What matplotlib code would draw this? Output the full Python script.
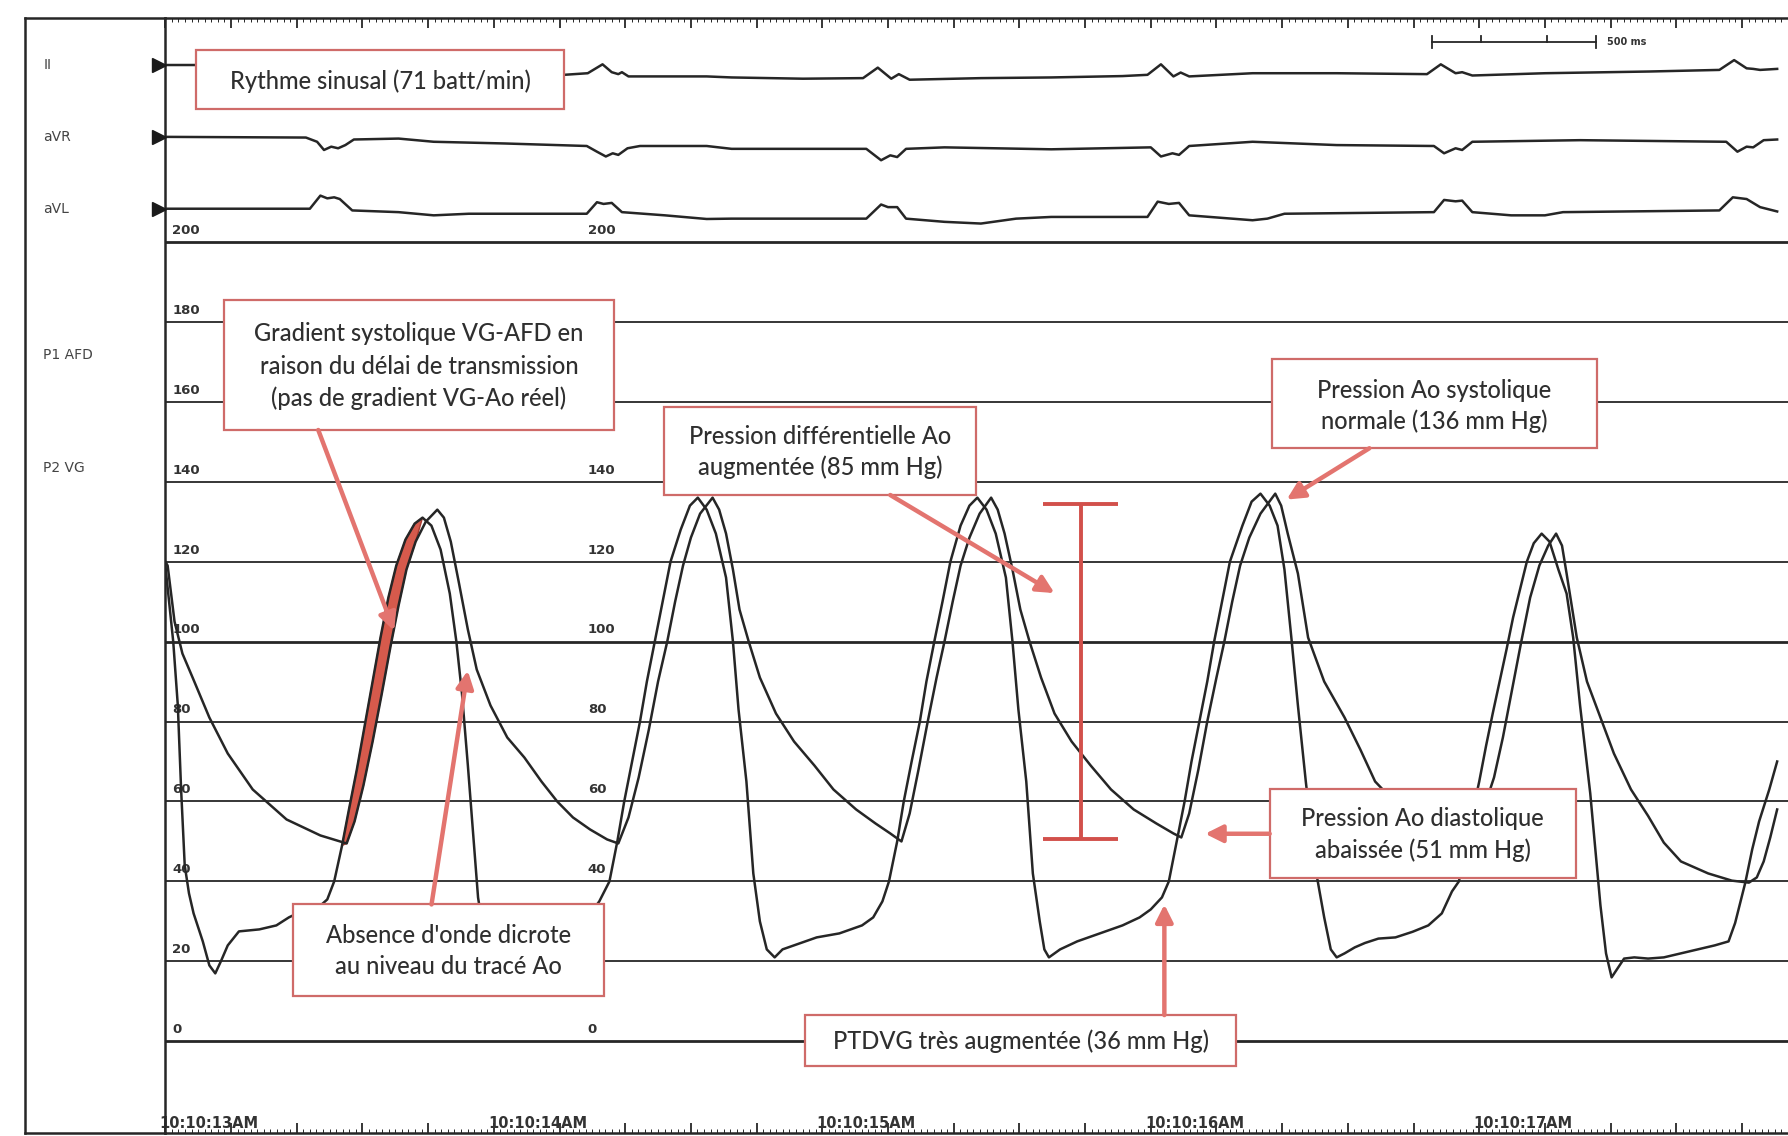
import matplotlib
matplotlib.use("Agg")
import numpy as np
import matplotlib.pyplot as plt
from matplotlib.patches import Rectangle, FancyArrowPatch, Polygon

# ---- data (time in s from 10:10:13 AM, pressure in mmHg) ----
# P2 VG (left ventricle)
lv_t = [0.000, 0.014, 0.024, 0.038, 0.048, 0.059, 0.072, 0.086, 0.114, 0.134, 0.152, 0.169,
        0.190, 0.224, 0.286, 0.338, 0.376, 0.414, 0.466, 0.493,
        0.514, 0.538, 0.559, 0.583, 0.607, 0.631, 0.655, 0.679, 0.703, 0.731, 0.759, 0.783,
        0.810, 0.838, 0.866, 0.886, 0.903, 0.921, 0.938, 0.952, 0.969, 0.986, 1.007,
        1.034, 1.086, 1.155, 1.224, 1.276, 1.321,
        1.352, 1.376, 1.397, 1.421, 1.445, 1.466, 1.490, 1.514, 1.538, 1.569, 1.597, 1.621,
        1.648, 1.676, 1.707, 1.728, 1.745, 1.769, 1.790, 1.810, 1.831, 1.855,
        1.879, 1.914, 1.983, 2.052, 2.121, 2.155, 2.183,
        2.203, 2.228, 2.248, 2.272, 2.297, 2.317, 2.341, 2.366, 2.390, 2.421, 2.448, 2.472,
        2.500, 2.528, 2.559, 2.579, 2.597, 2.621, 2.641, 2.662, 2.676, 2.690,
        2.724, 2.776, 2.845, 2.914, 2.966, 3.000, 3.034,
        3.055, 3.079, 3.103, 3.124, 3.148, 3.172, 3.193, 3.217, 3.241, 3.279, 3.307, 3.334,
        3.362, 3.386, 3.407, 3.428, 3.448, 3.472, 3.503, 3.528, 3.548, 3.566,
        3.590, 3.621, 3.652, 3.693, 3.745, 3.797, 3.845, 3.886, 3.917,
        3.938, 3.959, 3.979, 4.000, 4.021, 4.041, 4.062, 4.083, 4.103, 4.124, 4.145, 4.166, 4.190,
        4.214, 4.241, 4.266, 4.286, 4.307, 4.338, 4.369, 4.386, 4.403,
        4.441, 4.472, 4.514, 4.562, 4.614, 4.666, 4.717, 4.759,
        4.779, 4.810, 4.831, 4.852, 4.883, 4.907]
lv_p = [119, 108, 100, 84, 63, 44, 37, 32, 25, 19, 17, 20,
        24, 27.5, 28, 29, 31, 32.5, 33.5, 35.5,
        40, 49, 58, 68, 79, 90, 101, 111, 119, 125.5, 129.5, 131,
        129, 123, 112, 100, 87, 69, 51, 36, 27, 22, 20,
        22, 24, 26, 28, 30, 35,
        40, 50, 60, 70, 80, 90, 100, 110, 120, 128, 134, 136,
        133, 127, 116, 100, 83, 65, 42, 30, 23, 21,
        23, 24, 26, 27, 29, 31, 35,
        40, 50, 60, 70, 80, 90, 100, 110, 120, 129, 134, 136,
        133, 127, 116, 100, 83, 65, 42, 30, 23, 21,
        23, 25, 27, 29, 31, 33, 36,
        40, 50, 60, 70, 80, 90, 100, 110, 120, 129, 135, 137,
        134, 129, 118, 101, 84, 65, 42.5, 31, 23, 21,
        22, 23.5, 24.6, 25.7, 26, 27.4, 29, 32, 37.5,
        40, 48, 57, 65, 74, 82, 90, 98, 106, 113, 120, 124.6, 127,
        125, 118, 112, 101, 84, 62, 34, 22, 16,
        20.7, 21, 20.7, 21, 22, 23, 24, 25,
        29.6, 39.7, 48, 55, 63, 70]

# P1 AFD (femoral artery, aortic pressure)
afd_t = [0.000, 0.007, 0.028, 0.052, 0.083, 0.134, 0.190, 0.266, 0.369, 0.472, 0.552,
         0.576, 0.603, 0.631, 0.659, 0.686, 0.710, 0.734, 0.762, 0.793, 0.828,
         0.848, 0.869, 0.893, 0.921, 0.948, 0.990, 1.041, 1.093, 1.145, 1.193, 1.241, 1.293,
         1.345, 1.379,
         1.410, 1.441, 1.472, 1.500, 1.528, 1.552, 1.576, 1.600, 1.628, 1.666,
         1.686, 1.707, 1.728, 1.748, 1.776, 1.810, 1.859, 1.914, 1.976, 2.034, 2.103, 2.162,
         2.207, 2.241,
         2.266, 2.293, 2.321, 2.348, 2.372, 2.397, 2.421, 2.448, 2.479, 2.514,
         2.534, 2.555, 2.579, 2.603, 2.631, 2.666, 2.707, 2.759, 2.817, 2.879, 2.948, 3.017,
         3.069, 3.093,
         3.117, 3.145, 3.172, 3.200, 3.224, 3.248, 3.272, 3.300, 3.334, 3.379,
         3.397, 3.417, 3.448, 3.479, 3.528, 3.590, 3.638, 3.683, 3.741, 3.810, 3.879, 3.962,
         3.993, 4.021, 4.045, 4.072, 4.100, 4.128, 4.155, 4.183, 4.210, 4.234,
         4.252, 4.266, 4.297, 4.328, 4.369, 4.410, 4.462, 4.514, 4.562, 4.614, 4.697, 4.769,
         4.821, 4.845, 4.866, 4.886, 4.907]
afd_p = [120, 119, 105, 97, 91, 81, 72, 63, 55.5, 51.5, 49.5,
         55, 64, 75, 87, 99, 109, 118, 125, 130, 133,
         131, 125, 115, 103, 93, 84, 76, 71, 65, 60, 56, 53,
         50.5, 49.5,
         56, 66, 78, 90, 100, 110, 119, 126, 132, 136,
         133, 127, 118, 108, 100, 91, 82, 75, 69, 63, 58, 54.5,
         52, 50,
         57, 68, 80, 91, 100, 110, 119, 126, 132, 136,
         133, 127, 118, 108, 100, 91, 82, 75, 69, 63, 58, 54.5,
         52, 51,
         57, 68, 80, 91, 100, 110, 119, 126, 132, 137,
         134, 127, 117, 101, 90, 81, 73, 65, 60, 55, 52, 50,
         55, 60, 66, 76, 88, 100, 111, 119, 124, 127,
         124, 117, 101, 90, 81, 72, 63, 56.4, 49.7, 45, 42, 40.2,
         39.7, 41, 45, 51, 58]

# ECG leads (amplitude in arbitrary trace units, positive = up)
ii_t = [0.000, 0.093, 0.293, 0.438, 0.462, 0.483, 0.500, 0.528, 0.810, 1.214,
        1.286, 1.331, 1.359, 1.379, 1.390, 1.410, 1.648, 1.724, 1.941,
        2.124, 2.169, 2.210, 2.233, 2.266, 2.483, 2.697, 2.914,
        2.990, 3.031, 3.069, 3.091, 3.117, 3.310, 3.566,
        3.841, 3.883, 3.928, 3.948, 3.979, 4.200, 4.517,
        4.731, 4.776, 4.814, 4.834, 4.855, 4.907]
ii_amp = [0, 0, -2, -4, 4, -4, -3, -7, -8, -8.6,
          -7.2, 0.6, -6.3, -8, -6.3, -10, -10, -10.9, -12,
          -11.5, -2.3, -12, -8, -12.9, -11.5, -10.9, -9.7,
          -8.6, 0.6, -10, -6.6, -10, -7.2, -7.2,
          -8, 0.6, -7.2, -6.3, -9.2, -7.2, -5.7,
          -4.3, 4.3, -2.9, -3.4, -4.3, -3.4]

avr_t = [0.000, 0.428, 0.462, 0.483, 0.505, 0.526, 0.548, 0.574, 0.710, 0.817, 1.034,
         1.283, 1.314, 1.341, 1.362, 1.379, 1.407, 1.445, 1.648, 1.724, 1.941,
         2.134, 2.179, 2.207, 2.228, 2.255, 2.372, 2.697,
         3.000, 3.031, 3.066, 3.086, 3.117, 3.310, 3.566,
         3.862, 3.893, 3.928, 3.948, 3.979, 4.307,
         4.752, 4.786, 4.814, 4.834, 4.866, 4.907]
avr_amp = [0, -0.6, -4.3, -11.5, -8.6, -10, -7.2, -2.3, -1.5, -4.3, -5.8,
           -8, -13, -17.2, -14.4, -15.8, -10, -8, -8, -10.5, -10.5,
           -10.5, -20.5, -16.2, -17.7, -10.5, -9.2, -10.9,
           -9.2, -17.2, -14.4, -15.8, -8, -4.3, -7.2,
           -8, -14.4, -10, -11.5, -4.3, -2.9,
           -4.3, -13, -8.6, -9.2, -2.9, -2.3]

avl_t = [0.000, 0.440, 0.472, 0.493, 0.514, 0.531, 0.569, 0.710, 0.817, 0.924,
         1.283, 1.314, 1.334, 1.359, 1.390, 1.521, 1.648, 1.724,
         2.134, 2.179, 2.200, 2.228, 2.255, 2.372, 2.483, 2.590, 2.697,
         2.990, 3.021, 3.055, 3.086, 3.117, 3.310, 3.355, 3.407,
         3.862, 3.893, 3.928, 3.948, 3.979, 4.097, 4.200, 4.255,
         4.731, 4.772, 4.814, 4.855, 4.907]
avl_amp = [0, 0, 11.5, 9.1, 10, 8.5, -1.5, -3, -5.8, -4.4,
           -4.4, 5.7, 4.2, 5.1, -3, -5.8, -9, -8.7,
           -8.7, 3.7, 1.4, 1.4, -8.7, -11.5, -13, -8.7, -7.2,
           -7.2, 6.2, 4.2, 5.1, -5.8, -10.1, -8.7, -4.4,
           -3, 7.7, 6.5, 7.1, -3, -5.8, -5.8, -3,
           -1.5, 10, 8.5, 1.4, -2.4]

lead_names = ["II", "aVR", "aVL"]
pressure_ticks = [0, 20, 40, 60, 80, 100, 120, 140, 160, 180, 200]
second_scale_ticks = [0, 40, 60, 80, 100, 120, 140, 200]
time_labels = ["10:10:13AM", "10:10:14AM", "10:10:15AM", "10:10:16AM", "10:10:17AM"]
time_label_t = [0, 1, 2, 3, 4]

bracket_top, bracket_bottom = 134.5, 50.5
gradient_window = (0.538, 0.790)

# ---- layout helpers (reference layout is 1568 x 996 units) ----
W, H = 1568.0, 996.0
T0_X, PX_PER_S = 145.0, 290.0
Y0_Y, PX_PER_MMHG = 913.0, 3.505


def tx(x):
    return (x - T0_X) / PX_PER_S


def py(y):
    return (Y0_Y - y) / PX_PER_MMHG


lead_level = [py(57), py(120), py(183)]
ECG_GAIN = 1.0 / PX_PER_MMHG

INK = "#262626"
BOX_EDGE = "#cf6b69"
ARROW = "#e3746f"
BRACKET = "#d2504b"
TXT = "#2f2f2f"
BOX_FONT = ["Lato", "DejaVu Sans"]

fig = plt.figure(figsize=(17.88, 11.36), dpi=100, facecolor="white")

# left label panel (drawn first, transparent so time labels can overlap it)
lab = fig.add_axes([22 / W, 3 / H, (T0_X - 22) / W, 977 / H])
lab.patch.set_visible(False)
lab.set_xlim(0, 1)
lab.set_ylim(py(993), py(16))
lab.set_xticks([])
lab.set_yticks([])
for s in ["top", "bottom", "left"]:
    lab.spines[s].set_linewidth(1.8)
    lab.spines[s].set_color(INK)
lab.spines["right"].set_visible(False)
for name, lvl in zip(lead_names, lead_level):
    lab.text(0.13, lvl, name, fontsize=10, color="#444444", va="center", ha="left")
lab.text(0.13, py(311), "P1 AFD", fontsize=10, color="#444444", va="center", ha="left")
lab.text(0.13, py(410), "P2 VG", fontsize=10, color="#444444", va="center", ha="left")

ax = fig.add_axes([T0_X / W, 3 / H, 1 - T0_X / W, 977 / H])
ax.patch.set_visible(False)
ax.set_xlim(0, tx(W))
ax.set_ylim(py(993), py(16))
for s in ["top", "bottom", "left"]:
    ax.spines[s].set_linewidth(1.8)
    ax.spines[s].set_color(INK)
ax.spines["right"].set_visible(False)

# time rulers top and bottom
ax.set_xticks(np.arange(0, 4.95, 0.2))
ax.set_xticks(np.arange(0, 4.95, 0.02), minor=True)
ax.tick_params(axis="x", which="major", direction="in", length=7, width=1.3,
               top=True, bottom=True, labelbottom=False, colors=INK)
ax.tick_params(axis="x", which="minor", direction="in", length=3, width=0.7,
               top=True, bottom=True, colors=INK)
ax.set_yticks([])

# pressure grid lines and scale labels
for v in pressure_ticks:
    lw = 2.0 if v in (0, 100, 200) else 1.3
    ax.axhline(v, color=INK, lw=lw, zorder=1)
    ax.text(tx(151), v + 2.9, str(v), fontsize=9.5, fontweight="bold", color="#333333",
            ha="left", va="center", zorder=2)
for v in second_scale_ticks:
    ax.text(tx(518), v + 2.9, str(v), fontsize=9.5, fontweight="bold", color="#333333",
            ha="left", va="center", zorder=2)

# ECG traces
for (t_arr, a_arr), lvl in zip([(ii_t, ii_amp), (avr_t, avr_amp), (avl_t, avl_amp)], lead_level):
    ax.plot(t_arr, lvl + np.array(a_arr) * ECG_GAIN, color=INK, lw=1.8, zorder=3)
    ax.plot([tx(139)], [lvl], marker=">", ms=10, color="#1a1a1a", clip_on=False, zorder=4)

# systolic gradient (red band between LV and AFD upstrokes)
lt, lp = np.array(lv_t), np.array(lv_p)
at, ap = np.array(afd_t), np.array(afd_p)
m1 = (lt >= gradient_window[0]) & (lt <= 0.783)
m2 = (at >= 0.552) & (at <= gradient_window[1])
band = np.vstack([np.c_[lt[m1], lp[m1]], np.c_[at[m2], ap[m2]][::-1]])
ax.add_patch(Polygon(band, closed=True, facecolor="#d65a4c", edgecolor="#a83a30",
                     lw=1.0, zorder=3))

# pressure traces
ax.plot(lv_t, lv_p, color=INK, lw=1.8, zorder=4)
ax.plot(afd_t, afd_p, color=INK, lw=1.8, zorder=4)

# time labels
for lbl, tl in zip(time_labels, time_label_t):
    ax.text(tl - 0.017, py(992), lbl, fontsize=10.5, fontweight="bold", color="#333333",
            ha="left", va="bottom", zorder=2)

# 500 ms scale bar
sb0, sb1, sby = tx(1263), tx(1263) + 0.5, py(37)
ax.plot([sb0, sb1], [sby, sby], color=INK, lw=1.3)
for tt in (sb0, sb1):
    ax.plot([tt, tt], [sby - 1.5, sby + 1.5], color=INK, lw=1.3)
for tt in (sb0 + 0.15, sb0 + 0.35):
    ax.plot([tt, tt], [sby, sby + 1.5], color=INK, lw=1.3)
ax.text(tx(1418), sby, "500 ms", fontsize=7, fontweight="bold", color="#333333",
        ha="left", va="center")


def box(x0, x1, y0, y1, lines, ys, size=17):
    r = Rectangle((tx(x0), py(y1)), tx(x1) - tx(x0), py(y0) - py(y1),
                  facecolor="white", edgecolor=BOX_EDGE, lw=1.6, zorder=6)
    ax.add_patch(r)
    cx = (tx(x0) + tx(x1)) / 2
    for ln, yy in zip(lines, ys):
        ax.text(cx, py(yy), ln, fontsize=size, color=TXT, ha="center", va="center",
                family=BOX_FONT, fontweight="medium", zorder=7)


def arrow(x0, y0, x1, y1):
    a = FancyArrowPatch((tx(x0), py(y0)), (tx(x1), py(y1)), arrowstyle="-|>",
                        mutation_scale=26, lw=3.2, color=ARROW, shrinkA=0, shrinkB=0,
                        zorder=8)
    ax.add_patch(a)


box(172, 497, 44, 96, ["Rythme sinusal (71 batt/min)"], [71])
box(197, 541, 263, 377, ["Gradient systolique VG-AFD en",
                         "raison du délai de transmission",
                         "(pas de gradient VG-Ao réel)"], [292, 321, 349])
box(585, 861, 357, 434, ["Pression différentielle Ao",
                         "augmentée (85 mm Hg)"], [383, 410])
box(1122, 1409, 315, 393, ["Pression Ao systolique",
                           "normale (136 mm Hg)"], [342, 369])
box(1120, 1390, 692, 770, ["Pression Ao diastolique",
                           "abaissée (51 mm Hg)"], [718, 745])
box(258, 532, 793, 873, ["Absence d'onde dicrote",
                         "au niveau du tracé Ao"], [820, 847])
box(710, 1090, 890, 935, ["PTDVG très augmentée (36 mm Hg)"], [913])

arrow(280, 377, 347, 553)
arrow(380, 793, 412, 588)
arrow(785, 434, 930, 520)
arrow(1208, 393, 1135, 438)
arrow(1120, 731, 1063, 731)
arrow(1027, 890, 1027, 793)

# pulse-pressure bracket
tb = tx(953)
ax.plot([tb, tb], [bracket_top, bracket_bottom], color=BRACKET, lw=2.8, zorder=5,
        solid_capstyle="butt")
for v in (bracket_top, bracket_bottom):
    ax.plot([tx(920), tx(986)], [v, v], color=BRACKET, lw=2.8, zorder=5,
            solid_capstyle="butt")

fig.savefig("out.png", dpi=100, facecolor="white")
